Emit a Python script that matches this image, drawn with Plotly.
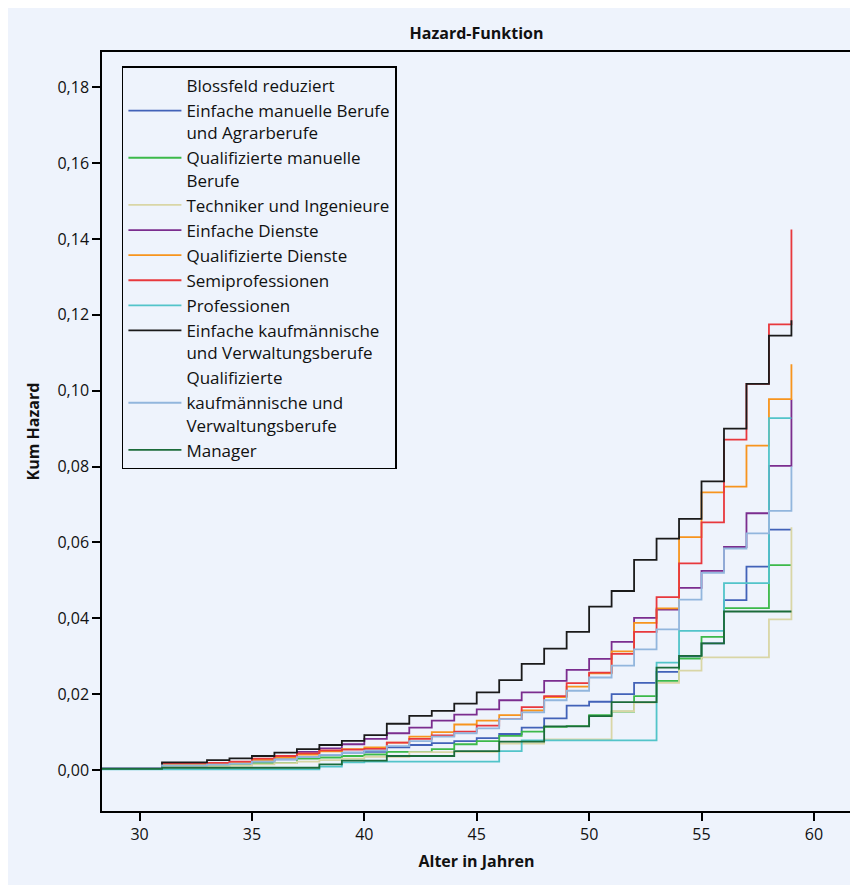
import plotly.graph_objects as go

ages = list(range(28, 60))

einfache_manuelle = [.0005, .0005, .0005, .0013, .0013, .0014, .0016, .0022, .0028, .0033, .0040, .0046,
                     .0048, .0060, .0066, .0071, .0076, .0084, .0095, .0112, .0136, .0170, .0180, .0200,
                     .0230, .0259, .0300, .0334, .0448, .0536, .0634, .0634]
qualifizierte_manuelle = [.0005, .0005, .0005, .0010, .0010, .0012, .0014, .0018, .0019, .0030, .0033, .0037,
                          .0041, .0048, .0048, .0055, .0068, .0076, .0090, .0101, .0114, .0116, .0145, .0154,
                          .0195, .0235, .0294, .0351, .0427, .0427, .0540, .0540]
techniker = [.0004, .0004, .0004, .0008, .0008, .0010, .0012, .0015, .0018, .0022, .0026, .0030,
             .0035, .0035, .0047, .0047, .0048, .0048, .0070, .0070, .0081, .0081, .0081, .0155,
             .0178, .0230, .0262, .0297, .0297, .0297, .0397, .0640]
einfache_dienste = [.0005, .0005, .0005, .0015, .0015, .0016, .0019, .0028, .0035, .0048, .0057, .0068,
                    .0082, .0097, .0112, .0130, .0146, .0160, .0184, .0205, .0235, .0264, .0293, .0338,
                    .0401, .0423, .0480, .0525, .0588, .0677, .0802, .0977]
qualifizierte_dienste = [.0005, .0005, .0005, .0015, .0015, .0017, .0021, .0027, .0033, .0041, .0049, .0055,
                         .0060, .0072, .0088, .0100, .0120, .0130, .0145, .0157, .0192, .0220, .0255, .0313,
                         .0388, .0426, .0614, .0732, .0747, .0855, .0978, .1070]
semiprofessionen = [.0005, .0005, .0005, .0018, .0018, .0019, .0022, .0030, .0037, .0044, .0052, .0054,
                    .0056, .0072, .0082, .0091, .0101, .0117, .0134, .0166, .0195, .0229, .0257, .0306,
                    .0364, .0456, .0545, .0653, .0871, .1018, .1175, .1425]
professionen = [.0002, .0002, .0002, .0002, .0002, .0002, .0002, .0002, .0002, .0002, .0009, .0020,
                .0022, .0022, .0022, .0022, .0022, .0022, .0050, .0078, .0078, .0078, .0078, .0078,
                .0078, .0283, .0367, .0367, .0493, .0493, .0928, .0928]
einfache_kaufm = [.0005, .0005, .0005, .0020, .0020, .0026, .0031, .0037, .0046, .0055, .0066, .0077,
                  .0092, .0122, .0143, .0156, .0175, .0205, .0237, .0280, .0320, .0364, .0431, .0472,
                  .0554, .0610, .0662, .0761, .0900, .1018, .1145, .1186]
qualifizierte_kaufm = [.0005, .0005, .0005, .0012, .0012, .0014, .0017, .0022, .0028, .0034, .0040, .0045,
                       .0051, .0063, .0076, .0088, .0097, .0110, .0134, .0152, .0184, .0209, .0244, .0275,
                       .0318, .0371, .0449, .0520, .0584, .0624, .0683, .0800]
manager = [.0003, .0003, .0003, .0006, .0006, .0006, .0006, .0006, .0006, .0006, .0015, .0025,
           .0025, .0037, .0037, .0037, .0050, .0050, .0075, .0075, .0115, .0115, .0142, .0179,
           .0179, .0270, .0301, .0334, .0418, .0418, .0418, .0418]

series_names = [
    "Einfache manuelle Berufe<br>und Agrarberufe",
    "Qualifizierte manuelle<br>Berufe",
    "Techniker und Ingenieure",
    "Einfache Dienste",
    "Qualifizierte Dienste",
    "Semiprofessionen",
    "Professionen",
    "Einfache kaufmännische<br>und Verwaltungsberufe",
    "kaufmännische und<br>Verwaltungsberufe",
    "Manager",
]
series_values = [einfache_manuelle, qualifizierte_manuelle, techniker, einfache_dienste,
                 qualifizierte_dienste, semiprofessionen, professionen, einfache_kaufm,
                 qualifizierte_kaufm, manager]
series_colors = ["#4262b8", "#3cb94a", "#d9d6a6", "#7b2d8e", "#f7941d", "#e8383d",
                 "#52c4c9", "#1a1a1a", "#92b6dd", "#1b6b3a"]

legend_title = "Blossfeld reduziert"
legend_extra = "Qualifizierte"

x_ticks = [30, 35, 40, 45, 50, 55, 60]
y_ticks = [0.0, 0.02, 0.04, 0.06, 0.08, 0.10, 0.12, 0.14, 0.16, 0.18]

FONT = "Open Sans"
BG = "#eef3fc"

fig = go.Figure()


def dummy(name):
    fig.add_trace(go.Scatter(x=[None], y=[None], mode="lines", name=name,
                             line=dict(color="rgba(0,0,0,0)", width=0),
                             hoverinfo="skip"))


dummy(legend_title)
for i, (name, vals, col) in enumerate(zip(series_names, series_values, series_colors)):
    if i == 8:
        dummy(legend_extra)
    fig.add_trace(go.Scatter(x=ages, y=vals, mode="lines", name=name,
                             line=dict(color=col, width=1.8, shape="hv")))

fig.update_layout(
    width=850, height=877,
    margin=dict(l=94, r=5, t=44, b=74),
    paper_bgcolor=BG,
    plot_bgcolor=BG,
    font=dict(family=FONT, size=16, color="#111111"),
    separators=",.",
    title=dict(text="<b>Hazard-Funktion</b>", xref="paper", x=0.5, xanchor="center",
               y=1 - 25 / 877, yanchor="middle", font=dict(size=16)),
    showlegend=True,
    legend=dict(x=0.0266, y=0.981, xanchor="left", yanchor="top",
                bgcolor=BG, bordercolor="black", borderwidth=1.5,
                font=dict(size=17), valign="top", tracegroupgap=0,
                itemwidth=53),
    xaxis=dict(range=[28.33, 61.65], tickvals=x_ticks, showgrid=False, zeroline=False,
               showline=True, linecolor="black", linewidth=1.5, mirror=True,
               ticks="outside", ticklen=8, tickcolor="black", tickwidth=1.5,
               tickfont=dict(size=16),
               title=dict(text="<b>Alter in Jahren</b>", font=dict(size=16), standoff=12)),
    yaxis=dict(range=[-0.0108, 0.1893], tickvals=y_ticks, tickformat=".2f",
               showgrid=False, zeroline=False,
               showline=True, linecolor="black", linewidth=1.5, mirror=True,
               ticks="outside", ticklen=8, tickcolor="black", tickwidth=1.5,
               tickfont=dict(size=16),
               title=dict(text="<b>Kum Hazard</b>", font=dict(size=16), standoff=14)),
)

fig.write_html("out.html")
